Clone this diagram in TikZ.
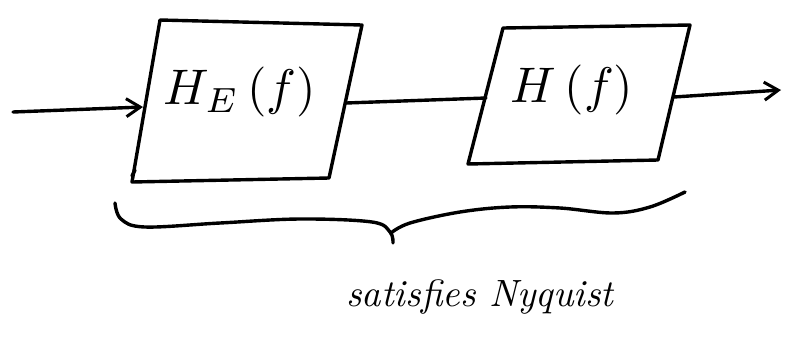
\documentclass[tikz,border=0pt]{standalone}
\usetikzlibrary{arrows.meta}
\begin{document}
\begin{tikzpicture}[x=1pt,y=-1pt,
  ink/.style={line width=3.4pt,line cap=round,line join=round},
  sig/.style={ink,-{Straight Barb[length=14pt,width=18pt,line width=3pt]}},
  lbl/.style={inner sep=0pt}]
\useasboundingbox (0,0) rectangle (792,349);
% box 1 corners
\coordinate (A1) at (160,20);
\coordinate (B1) at (362,25);
\coordinate (C1) at (329,178);
\coordinate (D1) at (132,182);
% box 2 corners
\coordinate (A2) at (503,28);
\coordinate (B2) at (690,25);
\coordinate (C2) at (658,160);
\coordinate (D2) at (468,164);
\draw[ink] (A1) -- (B1) -- (C1) -- (D1) -- cycle;
\draw[ink] (A2) -- (B2) -- (C2) -- (D2) -- cycle;
\draw[ink] (D1) ++(0,-6) -- ++(3,-6);
% labels
\node[lbl] (l1) at (240,92) {\scalebox{5}{$H_E\,(f)$}};
\node[lbl] (l2) at (572,90) {\scalebox{5}{$H\,(f)$}};
% connector points
\coordinate (in) at (13,112);
\coordinate (b1w) at (143,107);
\coordinate (b1e) at (346,103);
\coordinate (b2w) at (486,98);
\coordinate (b2e) at (674,97);
\coordinate (out) at (781,90);
\draw[sig] (in) -- (b1w);
\draw[ink] (b1e) -- (b2w);
\draw[sig] (b2e) -- (out);
% brace
\draw[ink] plot[smooth,tension=0.6] coordinates {(115,203) (121,219) (145,227) (220,223) (300,219) (372,222) (390,232) (393,243)};
\draw[ink] plot[smooth,tension=0.6] coordinates {(391,233) (410,223) (460,212) (510,207) (560,208) (613,213) (650,207) (685,192)};
\node[lbl] (note) at (480,297) {\scalebox{3.8}{\itshape satisfies Nyquist}};
\end{tikzpicture}
\end{document}
